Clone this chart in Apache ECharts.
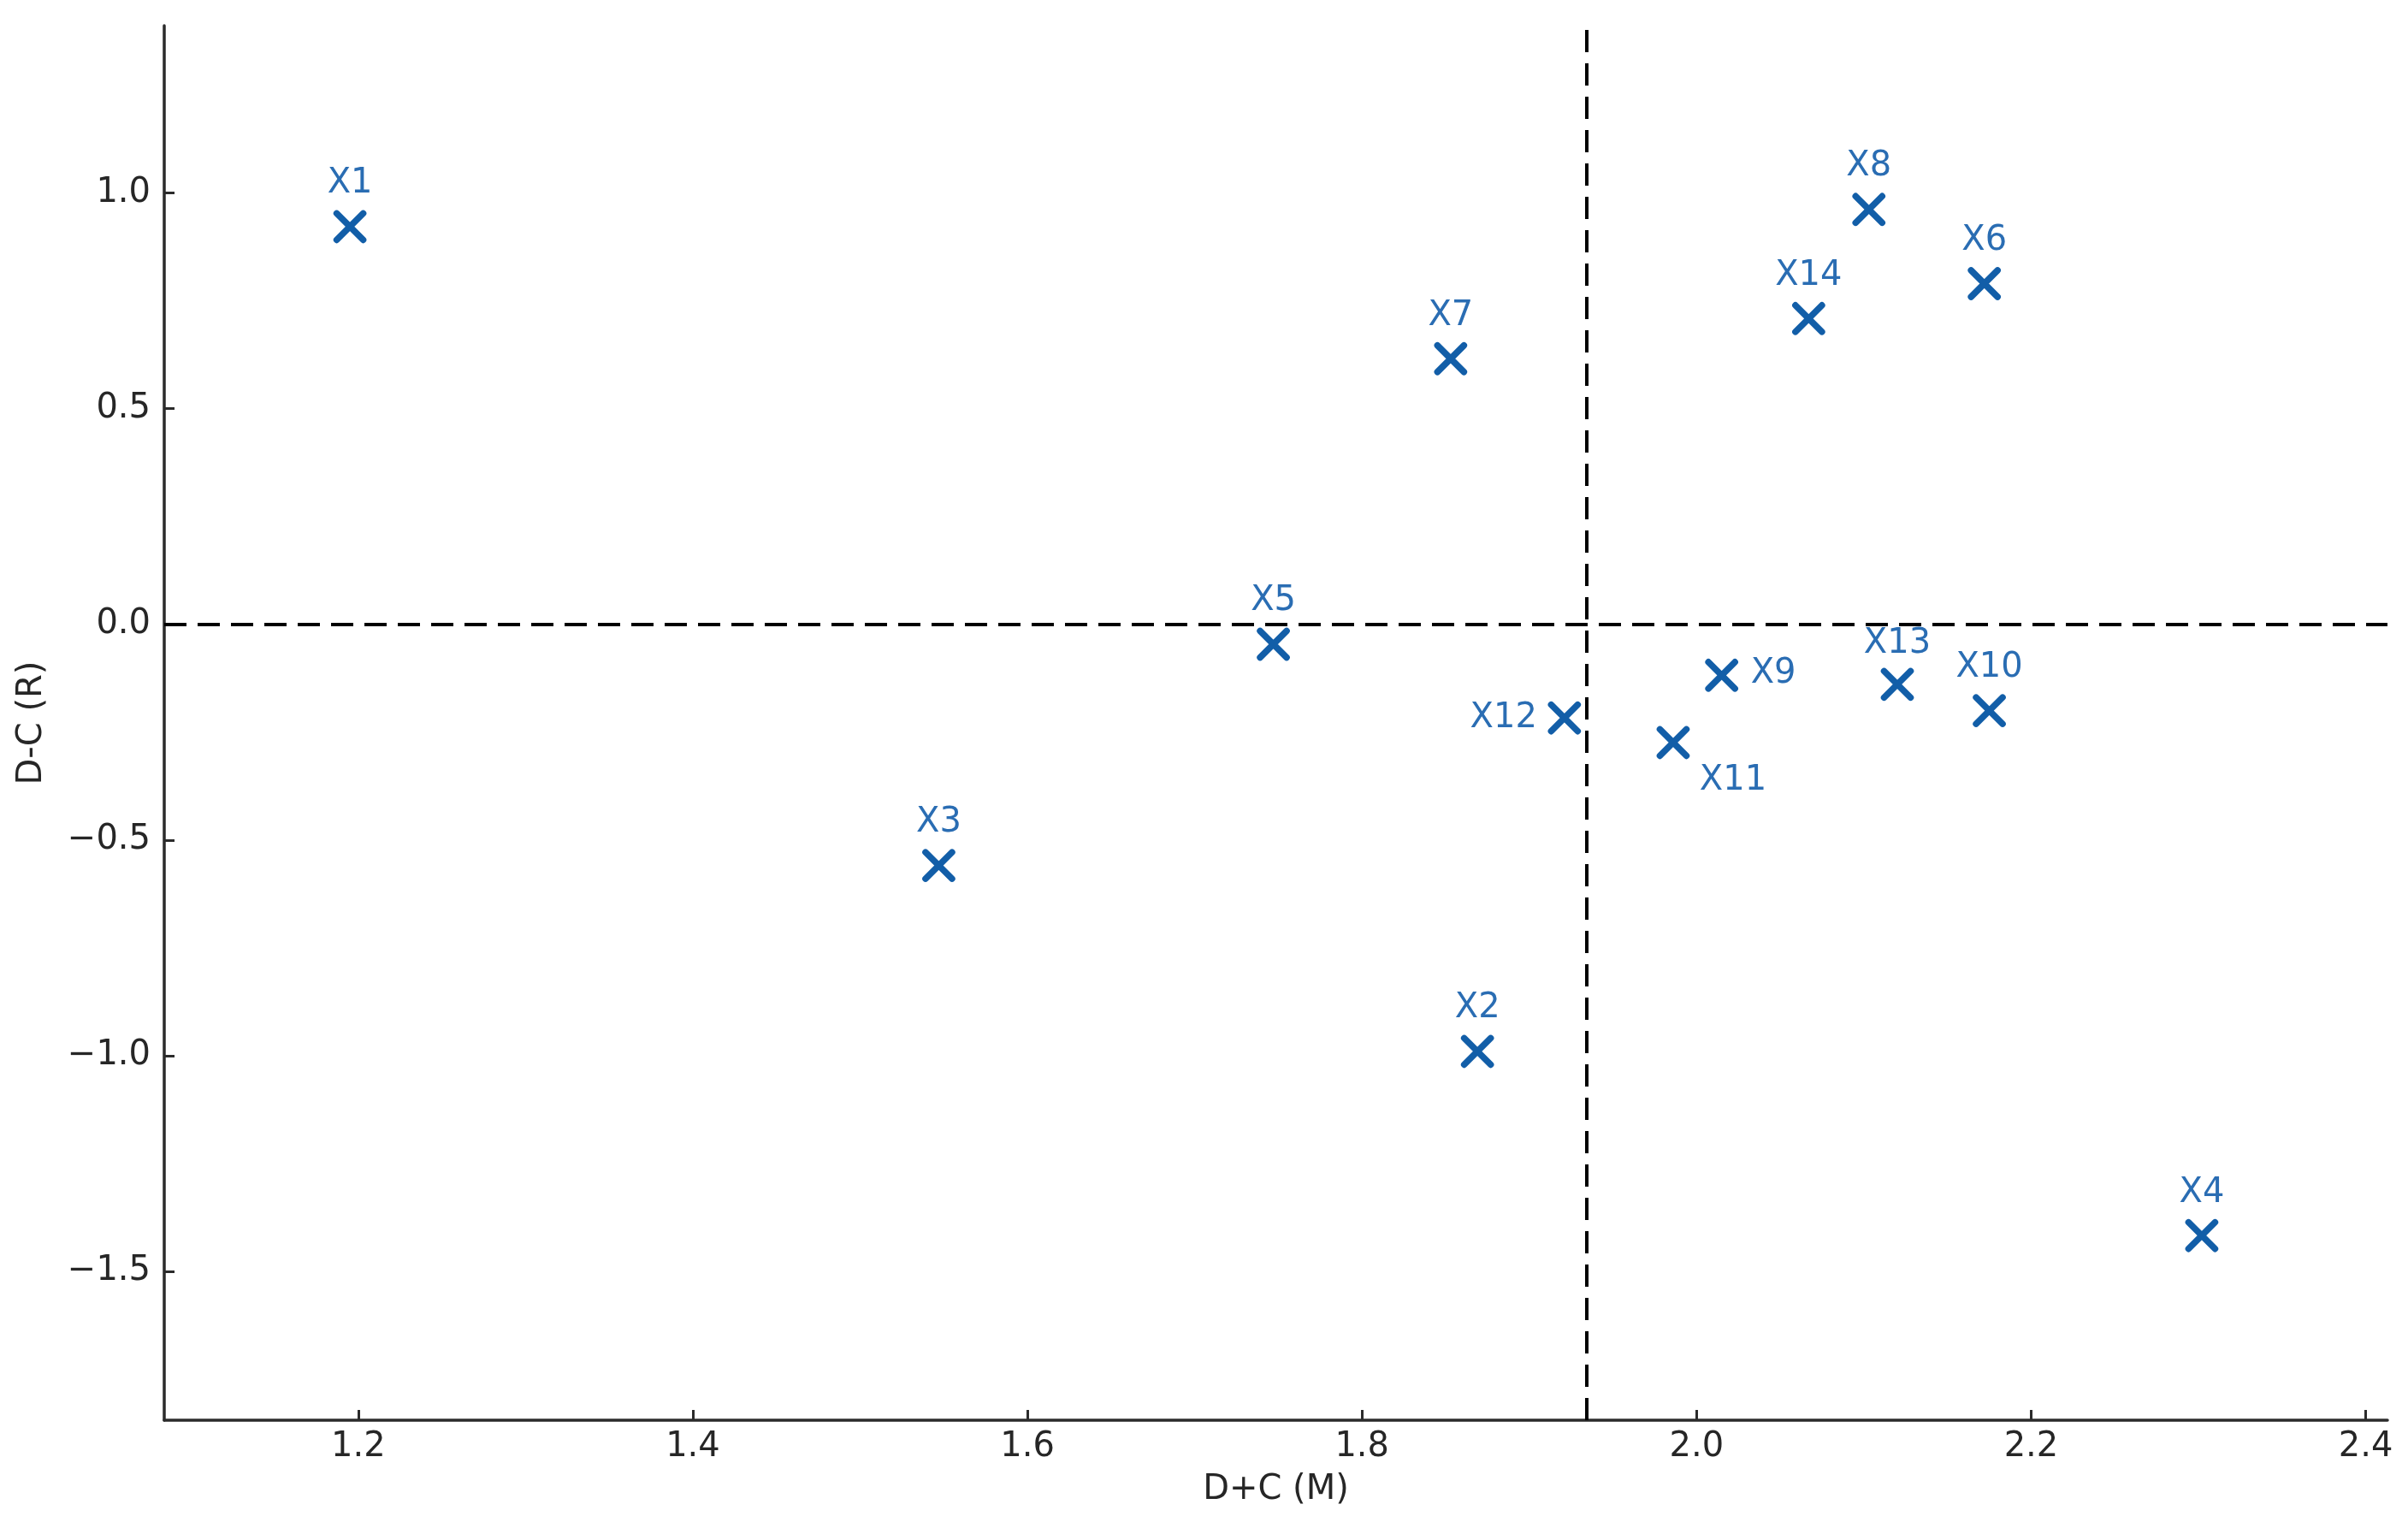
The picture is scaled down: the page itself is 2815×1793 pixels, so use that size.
<!DOCTYPE html>
<html lang="en">
<head>
<meta charset="UTF-8">
<title>D+C vs D-C</title>
<script src="https://cdn.jsdelivr.net/npm/echarts@6/dist/echarts.min.js"></script>
<style>
  html, body { margin: 0; padding: 0; background: #fff; }
  #container { width: 2815px; height: 1793px; }
</style>
</head>
<body>
<div id="container"></div>
<script>
// point data
const names = ['X1', 'X2', 'X3', 'X4', 'X5', 'X6', 'X7', 'X8', 'X9', 'X10', 'X11', 'X12', 'X13', 'X14'];
const dPlusC = [1.195, 1.869, 1.547, 2.302, 1.747, 2.172, 1.853, 2.103, 2.015, 2.175, 1.986, 1.921, 2.120, 2.067];
const dMinusC = [0.922, -0.990, -0.559, -1.417, -0.046, 0.790, 0.616, 0.962, -0.118, -0.200, -0.274, -0.217, -0.139, 0.709];

// reference lines
const xMean = 1.934;
const yZero = 0;

// tick labels
const xTicks = [1.2, 1.4, 1.6, 1.8, 2.0, 2.2, 2.4];
const yTicks = [-1.5, -1.0, -0.5, 0.0, 0.5, 1.0];

const FONT = 'DejaVu Sans';
const MARK = '#125ea8';
const LABEL = '#2a6db3';

// labels that do not sit above their marker
const labelPlace = {
  X9: { offset: [34, -2], align: 'left' },
  X11: { offset: [70, 45], align: 'center' },
  X12: { offset: [-32, 0], align: 'right' },
  X13: { offset: [0, -47], align: 'center' },
};

const points = names.map((n, i) => {
  const p = labelPlace[n] || { offset: [0, -50], align: 'center' };
  return {
    name: n,
    value: [dPlusC[i], dMinusC[i]],
    label: { offset: p.offset, align: p.align },
  };
});

const fmt = v => v.toFixed(1).replace('-', '\u2212');

const axisCommon = {
  type: 'value',
  nameLocation: 'middle',
  nameTextStyle: { fontFamily: FONT, fontSize: 40, color: '#262626' },
  axisLine: { show: true, onZero: false, lineStyle: { color: '#2b2b2b', width: 3.5 } },
  axisTick: { show: true, inside: true, length: 12, lineStyle: { color: '#2b2b2b', width: 3 } },
  splitLine: { show: false },
};

const chart = echarts.init(document.getElementById('container'), null, { renderer: 'canvas' });
chart.setOption({
  backgroundColor: '#fff',
  animation: false,
  grid: { left: 192, right: 24, top: 30, bottom: 133, containLabel: false },
  xAxis: Object.assign({}, axisCommon, {
    name: 'D+C (M)',
    nameGap: 62,
    min: 1.084,
    max: 2.413,
    axisTick: Object.assign({}, axisCommon.axisTick, { customValues: xTicks }),
    axisLabel: { customValues: xTicks, formatter: fmt, margin: 12, fontFamily: FONT, fontSize: 40, color: '#262626' },
  }),
  yAxis: Object.assign({}, axisCommon, {
    name: 'D-C (R)',
    nameGap: 134,
    min: -1.845,
    max: 1.388,
    axisTick: Object.assign({}, axisCommon.axisTick, { customValues: yTicks }),
    axisLabel: { customValues: yTicks, formatter: fmt, margin: 16, fontFamily: FONT, fontSize: 40, color: '#262626' },
  }),
  series: [{
    type: 'scatter',
    data: points,
    symbol: 'path://M0,0L10,10M10,0L0,10',
    symbolSize: 31,
    itemStyle: { color: 'rgba(0,0,0,0)', borderColor: MARK, borderWidth: 7.5, borderCap: 'round', opacity: 1 },
    label: {
      show: true,
      position: 'inside',
      formatter: '{b}',
      fontFamily: FONT,
      fontSize: 40,
      color: LABEL,
      verticalAlign: 'middle',
    },
    markLine: {
      silent: true,
      symbol: 'none',
      precision: 4,
      label: { show: false },
      lineStyle: { color: '#000', width: 4, type: [26, 13] },
      data: [{ xAxis: xMean }, { yAxis: yZero }],
    },
    z: 3,
  }],
});
</script>
</body>
</html>
